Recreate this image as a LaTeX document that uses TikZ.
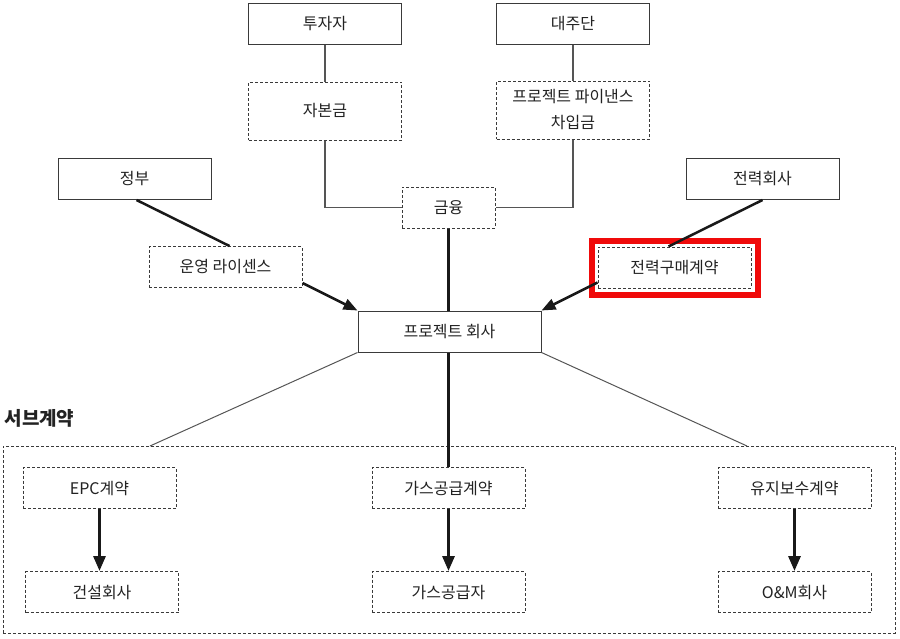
\documentclass[tikz,border=0pt]{standalone}
\usepackage{fontspec}
\setmainfont{Noto Sans CJK KR}
\usetikzlibrary{arrows.meta,fit,calc}
\definecolor{txt}{HTML}{222222}
\definecolor{edge}{HTML}{3A3A3A}
\definecolor{thin}{HTML}{555555}
\definecolor{hl}{HTML}{F00A0A}
\begin{document}
\begin{tikzpicture}[x=1pt,y=-1pt,
  every node/.style={font=\fontsize{16}{20}\selectfont, text=txt},
  solidbox/.style={draw=edge, line width=1pt, minimum width=153pt, minimum height=41pt, inner sep=0pt, align=center},
  dashbox/.style={solidbox, dash pattern=on 3pt off 2pt},
  thinline/.style={draw=thin, line width=1.1pt},
  thickline/.style={draw=black!90, line width=3pt},
  diagline/.style={draw=black!90, line width=2.5pt},
  bigarrow/.style={thickline, -{Triangle[length=15pt,width=12pt]}},
  diagarrow/.style={diagline, -{Triangle[length=14pt,width=11pt]}}
]
\useasboundingbox (0,0) rectangle (900,638);

% top row
\node[solidbox] (inv) at (325,23.5) {투자자};
\node[solidbox] (lend) at (573,23.5) {대주단};
\node[dashbox, minimum height=58pt] (cap) at (325,111) {자본금};
\node[dashbox, minimum height=58pt] (loan) at (573,110) {프로젝트 파이낸스\\[6pt]차입금};
\node[dashbox, minimum width=93pt] (fin) at (448.5,207.5) {금융};

% middle
\node[solidbox] (gov) at (134.5,179) {정부};
\node[dashbox] (lic) at (225.5,267) {운영 라이센스};
\node[solidbox] (pwr) at (762.5,179) {전력회사};
\node[dashbox] (ppa) at (674.5,267.5) {전력구매계약};
\node[draw=hl, line width=6pt, fit=(ppa), inner sep=6pt] (hlbox) {};
\node[solidbox, minimum width=183pt] (pc) at (449.5,331.5) {프로젝트 회사};

% subcontracts
\node[anchor=west, font=\fontsize{19}{23}\selectfont\bfseries] (sublabel) at (1,418) {서브계약};
\node[draw=edge, line width=1pt, dash pattern=on 3pt off 2pt, minimum width=892pt, minimum height=187pt, inner sep=0pt] (sub) at (449,539.5) {};
\coordinate (subl) at (150,446);
\coordinate (subr) at (747,446);

\node[dashbox] (epc) at (99.5,488) {EPC계약};
\node[dashbox] (con) at (102,592) {건설회사};
\node[dashbox] (gas) at (448.5,488) {가스공급계약};
\node[dashbox] (gsup) at (448.5,592) {가스공급자};
\node[dashbox] (om) at (794.5,488) {유지보수계약};
\node[dashbox] (omc) at (794.5,592) {O\&M회사};

% connectors: financing
\draw[thinline] (inv) -- (cap);
\draw[thinline] (lend) -- (loan);
\draw[thinline] (cap.south) |- (fin.west);
\draw[thinline] (loan.south) |- (fin.east);
\draw[thickline] (fin.south) -- (fin.south |- pc.north);

% license and PPA
\draw[diagline] ([xshift=2pt]gov.south) -- ([xshift=4pt]lic.north);
\draw[diagarrow] ([yshift=5pt]lic.south east) -- (pc.north west);
\draw[diagline] (pwr.south) -- ([xshift=-6pt]ppa.north);
\draw[diagarrow] ([yshift=6pt]ppa.south west) -- (pc.north east);

% to subcontracts
\draw[thinline, line width=1pt] (pc.south west) -- (subl);
\draw[thinline, line width=1pt] (pc.south east) -- (subr);
\draw[thickline] (gas.north |- pc.south) -- (gas.north);

\draw[bigarrow] (epc.south) -- (epc.south |- con.north);
\draw[bigarrow] (gas) -- (gsup);
\draw[bigarrow] (om) -- (omc);
\end{tikzpicture}
\end{document}
